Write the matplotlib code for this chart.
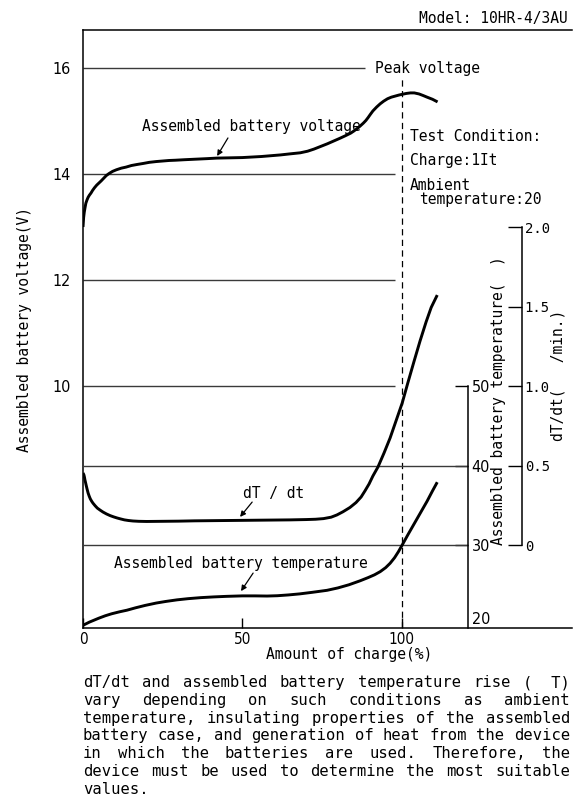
import matplotlib
matplotlib.use("Agg")
import matplotlib.pyplot as plt
from matplotlib import font_manager
from matplotlib.font_manager import FontProperties
from matplotlib.transforms import ScaledTranslation

# ---------------- data ----------------
charge_v = [0, 0.2, 0.4, 0.65, 0.9, 1.25, 1.6, 2.0, 2.5, 3.0, 3.6, 4.3, 5, 5.7, 6.5, 7.3, 8.2,
            9.3, 10.5, 12, 13.5, 15.2, 17, 19, 20.8, 23, 25, 27, 29, 32, 35.5, 39, 42, 46, 50,
            53, 56, 59, 62, 65, 68.2, 70.5, 72.5, 74.6, 76.7, 78.6, 80.5, 82.3, 84, 85, 86,
            87, 88, 88.8, 89.5, 90.2, 91, 92.2, 93.3, 94.4, 95.6, 96.8, 98, 99.2, 100.3,
            101.5, 102.8, 104, 105.5, 106.8, 108, 109.7, 111.3]
voltage = [13.0, 13.18, 13.28, 13.37, 13.45, 13.51, 13.56, 13.60, 13.64, 13.69, 13.74, 13.79,
           13.83, 13.87, 13.92, 13.97, 14.01, 14.05, 14.08, 14.11, 14.13, 14.16, 14.18, 14.20,
           14.22, 14.235, 14.245, 14.255, 14.26, 14.27, 14.28, 14.29, 14.30, 14.305, 14.31,
           14.32, 14.33, 14.345, 14.36, 14.38, 14.40, 14.43, 14.47, 14.52, 14.57, 14.62, 14.67,
           14.72, 14.77, 14.81, 14.855, 14.905, 14.96, 15.01, 15.065, 15.125, 15.19, 15.265,
           15.325, 15.375, 15.42, 15.45, 15.47, 15.49, 15.505, 15.52, 15.53, 15.53, 15.51,
           15.48, 15.45, 15.41, 15.36]

charge_dt = [0, 0.15, 0.3, 0.45, 0.6, 0.8, 1.0, 1.3, 1.6, 1.95, 2.3, 2.7, 3.1, 3.8, 4.5, 5.4,
             6.3, 7.4, 8.5, 9.6, 10.7, 11.8, 13, 14.3, 15.7, 17.5, 20, 25, 30, 35, 40, 45, 50,
             55, 60, 65, 70, 73, 75.5, 77.9, 79.7, 81.6, 83.8, 85.7, 87.3, 88.5, 89.8, 91.0,
             92.6, 94.5, 96.4, 98.3, 100.2, 102.0, 103.9, 105.8, 107.7, 109.3, 111.2]
dtdt = [0.453, 0.447, 0.44, 0.427, 0.41, 0.393, 0.375, 0.35, 0.327, 0.307, 0.29, 0.276, 0.264,
        0.247, 0.232, 0.219, 0.207, 0.195, 0.185, 0.177, 0.17, 0.164, 0.158, 0.154, 0.151,
        0.149, 0.148, 0.149, 0.150, 0.152, 0.153, 0.154, 0.155, 0.156, 0.157, 0.158, 0.160,
        0.162, 0.166, 0.175, 0.189, 0.209, 0.236, 0.267, 0.302, 0.340, 0.384, 0.434, 0.491,
        0.579, 0.673, 0.783, 0.893, 1.022, 1.154, 1.283, 1.403, 1.494, 1.572]

charge_t = [0, 1, 2, 3.5, 5, 7, 9, 11.5, 13.8, 16.5, 19.5, 23, 26, 29.5, 33, 37, 41, 45, 50,
            54, 57.8, 61, 64.5, 68, 72, 76.6, 80, 83.5, 87, 89.5, 91.5, 93.3, 95, 96.4, 97.8,
            99, 100.2, 102, 104, 106, 108, 109.7, 111.2]
temp = [19.9, 20.1, 20.3, 20.55, 20.8, 21.1, 21.35, 21.6, 21.8, 22.1, 22.4, 22.7, 22.9, 23.1,
        23.25, 23.38, 23.47, 23.54, 23.6, 23.6, 23.58, 23.62, 23.72, 23.85, 24.05, 24.3, 24.6,
        25.0, 25.5, 25.9, 26.25, 26.65, 27.15, 27.7, 28.4, 29.15, 30.0, 31.3, 32.7, 34.1,
        35.5, 36.8, 37.9]

x_ticks = [0, 50, 100]
v_ticks = [16, 14, 12, 10]
t_ticks = [20, 30, 40, 50]
d_ticks = [0, 0.5, 1.0, 1.5, 2.0]
d_tick_labels = ["0", "0.5", "1.0", "1.5", "2.0"]
v_grid = [16, 14, 12, 10]
v_grid_end = [88.5, 98, 98, 98]
t_grid = [40, 30]
peak_charge = 100

paragraph = [
    "dT/dt and assembled battery temperature rise (\u00a0\u00a0T)",
    "vary depending on such conditions as ambient",
    "temperature, insulating properties of the assembled",
    "battery case, and generation of heat from the device",
    "in which the batteries are used. Therefore, the",
    "device must be used to determine the most suitable",
    "values.",
]

# ---------------- fonts ----------------
MONO = "DejaVu Sans Mono"
narrow_file = None
for f in font_manager.fontManager.ttflist:
    nm = f.name
    if ("Narrow" in nm or "Condensed" in nm or f.stretch in ("condensed", "semi-condensed")) \
            and f.style == "normal" and f.weight in (400, "normal", "regular") \
            and "Mono" not in nm and "Serif" not in nm:
        narrow_file = f.fname
        break

def tick_font(size_narrow, size_plain):
    if narrow_file:
        return FontProperties(fname=narrow_file, size=size_narrow)
    return FontProperties(family="Liberation Sans", size=size_plain)

W, H = 574, 796
fig = plt.figure(figsize=(W / 100, H / 100), dpi=100)

def fx(px):
    return px / W

def fy(py):
    return 1 - py / H

ax = fig.add_axes([fx(83), fy(628), fx(572) - fx(83), fy(30) - fy(628)])

VLO, VHI = 5.434, 16.717
def v2t(v):
    return 30 + (v - 7) * 20 / 3
def v2d(v):
    return (v - 7) / 3

XMAX = 153.5
T_AXIS_X = 120.7
D_AXIS_X = 137.8
ax.set_xlim(0, XMAX)
ax.set_ylim(VLO, VHI)

ax_t = ax.twinx()
ax_t.set_ylim(v2t(VLO), v2t(VHI))
ax_d = ax.twinx()
ax_d.set_ylim(v2d(VLO), v2d(VHI))

SP_LW = 1.1
for s in ["left", "top", "bottom"]:
    ax.spines[s].set_linewidth(SP_LW)
ax.spines["right"].set_visible(False)

for a in (ax_t, ax_d):
    for s in ["left", "top", "bottom"]:
        a.spines[s].set_visible(False)
    a.spines["right"].set_linewidth(SP_LW)

ax_t.spines["right"].set_position(("data", T_AXIS_X))
ax_t.spines["right"].set_bounds(v2t(VLO), 50)
ax_d.spines["right"].set_position(("data", D_AXIS_X))
ax_d.spines["right"].set_bounds(0, 2.0)

# main axis ticks
ax.set_xticks(x_ticks)
ax.set_xticklabels([str(x) for x in x_ticks])
for lab in ax.get_xticklabels():
    lab.set_fontproperties(tick_font(11, 10))
ax.tick_params(axis="x", direction="in", length=7, width=1.0, pad=3)
ax.set_yticks(v_ticks)
ax.set_yticklabels([str(v) for v in v_ticks])
for lab in ax.get_yticklabels():
    lab.set_fontproperties(tick_font(11.5, 10.5))
ax.tick_params(axis="y", length=0, pad=9)

ax_t.set_yticks(t_ticks)
ax_t.set_yticklabels([str(t) for t in t_ticks])
for lab in ax_t.get_yticklabels():
    lab.set_fontproperties(tick_font(11.5, 10.5))
ax_t.tick_params(axis="y", direction="in", length=9.5, width=1.0, pad=3)
# lowest temperature tick: label only, lifted above the bottom frame
ax_t.yaxis.get_major_ticks()[0].tick2line.set_visible(False)
lowlab = ax_t.get_yticklabels()[0]
lowlab.set_transform(lowlab.get_transform() + ScaledTranslation(0, 5 / 72, fig.dpi_scale_trans))

ax_d.set_yticks(d_ticks)
ax_d.set_yticklabels(d_tick_labels, family=MONO, fontsize=10)
ax_d.tick_params(axis="y", direction="in", length=10, width=1.0, pad=2)

# grid lines
GCOL = "#3a3a3a"
for v, e in zip(v_grid, v_grid_end):
    ax.hlines(v, 0, e, color=GCOL, lw=1.0)
ax_t.hlines(t_grid, 0, T_AXIS_X, color=GCOL, lw=1.0)

# peak dashed line
ax.vlines(peak_charge, VLO, 15.81, color="black", lw=0.9, linestyles=(0, (5, 3.5)))

# curves
LW = 2.1
ax.plot(charge_v, voltage, color="black", lw=LW, solid_capstyle="butt", solid_joinstyle="round")
ax_d.plot(charge_dt, dtdt, color="black", lw=LW, solid_capstyle="butt", solid_joinstyle="round")
ax_t.plot(charge_t, temp, color="black", lw=LW, solid_capstyle="butt", solid_joinstyle="round")

# labels in chart
FS = 10.5
ax.text(18.5, 14.89, "Assembled battery voltage", family=MONO, fontsize=FS, va="center", ha="left")
ax.text(50.2, 7.98, "dT / dt", family=MONO, fontsize=FS, va="center", ha="left")
ax.text(9.7, 6.66, "Assembled battery temperature", family=MONO, fontsize=FS, va="center", ha="left")
ax.text(91.7, 16.0, "Peak voltage", family=MONO, fontsize=FS, va="center", ha="left")
ax.text(102.7, 14.70, "Test Condition:", family=MONO, fontsize=FS, va="center", ha="left")
ax.text(102.7, 14.26, "Charge:1It", family=MONO, fontsize=FS, va="center", ha="left")
ax.text(102.7, 13.79, "Ambient", family=MONO, fontsize=FS, va="center", ha="left")
ax.text(105.5, 13.51, "temperature:20", family=MONO, fontsize=FS, va="center", ha="left")

arrow = dict(arrowstyle="-|>", lw=0.9, color="black", mutation_scale=8, shrinkA=0, shrinkB=0)
ax.annotate("", xy=(42.1, 14.34), xytext=(45.5, 14.68), arrowprops=arrow)
ax.annotate("", xy=(49.3, 7.53), xytext=(53.1, 7.81), arrowprops=arrow)
ax.annotate("", xy=(49.6, 6.13), xytext=(53.4, 6.47), arrowprops=arrow)

# axis titles
fig.text(fx(349), fy(654), "Amount of charge(%)", family=MONO, fontsize=FS, ha="center", va="center")
fig.text(fx(25), fy(330), "Assembled battery voltage(V)", family=MONO, fontsize=FS,
         ha="center", va="center", rotation=90)
fig.text(fx(499), fy(401), "Assembled battery temperature(\u00a0\u00a0)", family=MONO, fontsize=FS,
         ha="center", va="center", rotation=90)
fig.text(fx(558), fy(375), "dT/dt(\u00a0\u00a0\u00a0/min.)", family=MONO, fontsize=FS,
         ha="center", va="center", rotation=90)
fig.text(fx(568), fy(19), "Model: 10HR-4/3AU", family=MONO, fontsize=FS, ha="right", va="center")

# justified paragraph
PFS = 11.2
pitch = 0.60205 * PFS * 100 / 72
left, right = 83, 570
base0, dy = 687, 17.8
for i, line in enumerate(paragraph):
    words = line.split(" ")
    widths = [len(w) * pitch for w in words]
    if i == len(paragraph) - 1 or len(words) == 1:
        gap = pitch
    else:
        gap = (right - left - sum(widths)) / (len(words) - 1)
    x = left
    for w, wd in zip(words, widths):
        fig.text(fx(x), fy(base0 + i * dy), w, family=MONO, fontsize=PFS, ha="left", va="baseline")
        x += wd + gap

fig.savefig("out.png", dpi=100)
